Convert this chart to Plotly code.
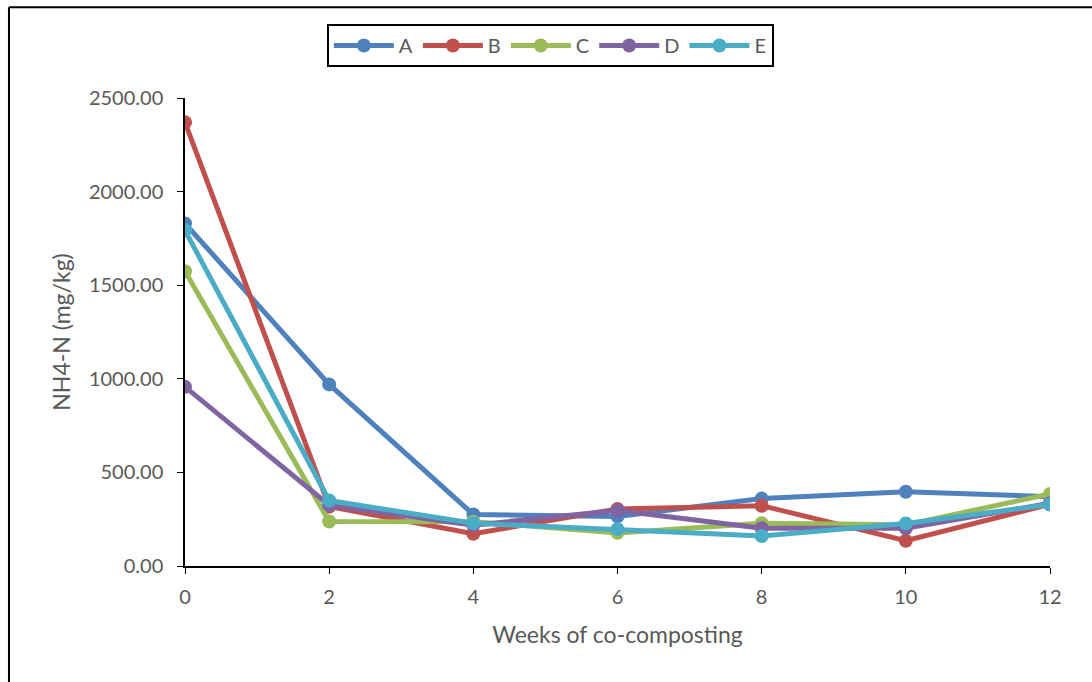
import plotly.graph_objects as go

weeks = [0, 2, 4, 6, 8, 10, 12]
series_names = ["A", "B", "C", "D", "E"]
A = [1830, 970, 275, 265, 360, 397, 370]
B = [2370, 317, 172, 305, 322, 135, 330]
C = [1575, 238, 237, 177, 228, 220, 385]
D = [957, 325, 218, 297, 202, 202, 335]
E = [1793, 350, 228, 197, 160, 227, 328]
colors = ["#4F81BD", "#C0504D", "#9BBB59", "#8064A2", "#4BACC6"]
y_ticks = [0, 500, 1000, 1500, 2000, 2500]

fig = go.Figure()
for name, vals, col in zip(series_names, [A, B, C, D, E], colors):
    fig.add_trace(go.Scatter(
        x=weeks, y=vals, name=name, mode="lines+markers",
        line=dict(color=col, width=5),
        marker=dict(color=col, size=14),
    ))

font_fam = "Lato, 'Open Sans', sans-serif"
fig.update_layout(
    width=1092, height=682,
    margin=dict(l=185, r=42, t=98, b=116, autoexpand=False),
    paper_bgcolor="white", plot_bgcolor="white",
    font=dict(family=font_fam, color="#595959", size=20),
    showlegend=True,
    legend=dict(
        orientation="h", x=0.504, xanchor="center", xref="container",
        y=1 - 45.5 / 682, yanchor="middle", yref="container",
        bordercolor="black", borderwidth=2, bgcolor="white",
        font=dict(size=20, color="#595959"),
        itemwidth=60, tracegroupgap=0,
    ),
    xaxis=dict(
        range=[0, 12], tickvals=weeks, ticktext=[str(w) for w in weeks],
        showgrid=False, zeroline=False, showline=True, linecolor="black", linewidth=1.5,
        ticks="outside", ticklen=6, tickcolor="black",
        tickfont=dict(size=20), ticklabelstandoff=6,
        title=dict(text="Weeks of co-composting", font=dict(size=23, color="#595959"), standoff=20),
    ),
    yaxis=dict(
        range=[0, 2500], tickvals=y_ticks, ticktext=[f"{v:.2f}" for v in y_ticks],
        showgrid=False, zeroline=False, showline=True, linecolor="black", linewidth=1.5,
        ticks="outside", ticklen=6, tickcolor="black",
        tickfont=dict(size=20), ticklabelstandoff=10,
        title=dict(text="NH4-N (mg/kg)", font=dict(size=23, color="#595959"), standoff=12),
    ),
)
fig.add_shape(type="line", xref="paper", yref="paper",
              x0=-0.2035, x1=-0.2035, y0=-0.3, y1=1.194, line=dict(color="black", width=2))
fig.add_shape(type="line", xref="paper", yref="paper",
              x0=-0.2035, x1=1.1, y0=1.194, y1=1.194, line=dict(color="black", width=2))

fig.write_html("out.html")
